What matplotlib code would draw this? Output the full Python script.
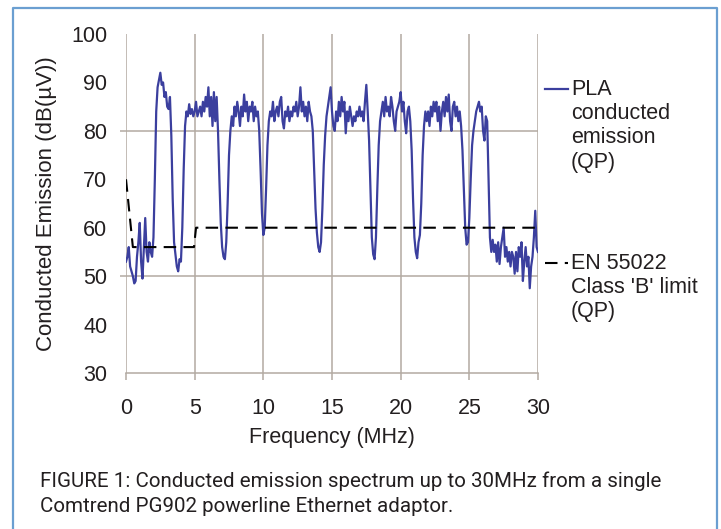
import numpy as np
import matplotlib
matplotlib.use("Agg")
import matplotlib.pyplot as plt
from matplotlib.lines import Line2D

# ------------------------------------------------------------
# Data
# ------------------------------------------------------------
# PLA quasi-peak emission, one value every 0.1 MHz from 0 to 30 MHz
freq_step_mhz = 0.1
pla_level = [
    53, 54, 56, 52, 51, 50, 48.5, 49, 54, 57,          # 0
    61, 53, 49.5, 56, 62, 55, 53, 57, 55, 54,          # 1
    58, 70, 84, 89, 90.5, 92, 89.5, 90, 87, 88,        # 2
    85, 84.5, 87, 79, 66, 57, 54.5, 52, 51, 53.5,      # 3
    53, 60, 72, 81, 84, 83, 85.5, 83.5, 84.5, 83,      # 4
    84, 86, 83, 84, 85, 83, 86, 84, 87, 85,            # 5
    89, 83, 87, 81, 88, 82, 87, 80, 70, 61,            # 6
    56, 54, 53.5, 57, 65, 75, 80, 83, 81, 85,          # 7
    83, 86, 84, 81, 85, 83, 87.5, 84, 86, 82,          # 8
    85, 84, 86, 82, 85, 83, 84, 80, 72, 63,            # 9
    58.5, 60, 68, 77, 82, 84, 83, 86, 82, 84,          # 10
    85, 83, 86, 87, 82, 80.5, 84, 83, 85, 82,          # 11
    84, 83, 85, 84, 86, 83, 85, 89, 84, 86,            # 12
    83, 85, 82, 86, 84, 83, 80, 72, 64, 59,            # 13
    56, 55, 57, 64, 73, 79, 83, 85, 87, 89,            # 14
    84, 81, 80, 84, 82, 86, 83, 87, 84, 86,            # 15
    79.5, 84, 82, 85, 83, 81, 83, 82, 84, 83,          # 16
    85, 83, 84, 82, 86, 89.5, 84, 78, 68, 58,          # 17
    54.5, 53.5, 58, 68, 77, 82, 84, 86, 83, 87,        # 18
    84, 85, 83, 87, 85, 82, 80, 84, 85, 86,            # 19
    88, 84, 86, 82, 79.5, 84, 85, 82, 76, 66,          # 20
    58, 55, 53.7, 57, 58.5, 65, 75, 81, 84, 82,        # 21
    84, 81, 85, 83, 86, 84, 86, 82, 85, 80,            # 22
    84, 86, 83, 87, 84, 87.5, 82, 80, 85, 86,          # 23
    83, 85, 82, 84, 81, 76, 68, 60, 56.5, 57,          # 24
    62, 70, 77, 80, 82, 84, 85, 86, 84, 85,            # 25
    80, 78, 83, 82, 70, 58, 55, 57.5, 55, 56.5,        # 26
    53, 57, 52.5, 56, 58, 60, 54, 56, 53, 55,          # 27
    52, 55, 54, 50.5, 55, 51, 56, 54, 57, 49,          # 28
    53, 56, 52, 54, 47.5, 52, 54, 58, 63.5, 56,        # 29
    55,                                                # 30
]
pla_freq = np.arange(len(pla_level)) * freq_step_mhz

# EN 55022 Class B quasi-peak limit
limit_freq = [0, 0.5, 4.95, 5.1, 30]
limit_level = [70, 56, 56, 60, 60]

x_ticks = [0, 5, 10, 15, 20, 25, 30]
y_ticks = [30, 40, 50, 60, 70, 80, 90, 100]
y_grid = [50, 80]

caption = ("FIGURE 1: Conducted emission spectrum up to 30MHz from a single\n"
           "Comtrend PG902 powerline Ethernet adaptor.")

# ------------------------------------------------------------
# Style
# ------------------------------------------------------------
TEXT = "#231f20"
GRID = "#b3aaa2"
BLUE = "#3b3f9e"
FRAME = "#6b9fd1"
plt.rcParams["font.family"] = ["Liberation Sans", "DejaVu Sans"]

fig = plt.figure(figsize=(7.21, 5.29), dpi=100)
ax = fig.add_axes([126 / 721, 1 - 373 / 529, 412 / 721, 339 / 529])

ax.plot(pla_freq, pla_level, color=BLUE, lw=1.6, zorder=3)
ax.plot(limit_freq, limit_level, color="black", lw=1.5,
        linestyle=(0, (6, 3.5)), zorder=4)

# the two horizontal grid lines poke out a little left of the plot
ax.hlines(y_grid, -0.45, 30, color=GRID, lw=1.1, clip_on=False, zorder=1)

ax.set_xlim(0, 30)
ax.set_ylim(30, 100)
ax.set_xticks(x_ticks)
ax.set_yticks(y_ticks)

for side in ["top", "right", "left"]:
    ax.spines[side].set_visible(False)
ax.spines["bottom"].set_color(GRID)
ax.spines["bottom"].set_linewidth(1.1)

ax.grid(axis="x", color=GRID, lw=1.1, zorder=1)
ax.tick_params(axis="x", length=5, width=1.1, color=GRID, pad=13,
               labelsize=15.5, labelcolor=TEXT)
ax.tick_params(axis="y", length=0, pad=13.5,
               labelsize=15.5, labelcolor=TEXT)

ax.set_xlabel("Frequency (MHz)", fontsize=15.5, color=TEXT, va="center")
ax.xaxis.set_label_coords(0.5, (373 - 438) / 339)
ax.set_ylabel("Conducted Emission (dB(µV))", fontsize=16, color=TEXT,
              va="center")
ax.yaxis.set_label_coords((47 - 126) / 412, 0.5)

# legend, drawn beside the plot like the original
fig.add_artist(Line2D([545 / 721, 568 / 721], [1 - 89 / 529] * 2,
                      color=BLUE, lw=1.6))
fig.text(571 / 721, 1 - 79 / 529, "PLA\nconducted\nemission\n(QP)",
         fontsize=15.5, color=TEXT, va="top", linespacing=1.2)
fig.add_artist(Line2D([545 / 721, 568 / 721], [1 - 263 / 529] * 2,
                      color="black", lw=1.5, linestyle=(0, (6, 3.5))))
fig.text(571 / 721, 1 - 253 / 529, "EN 55022\nClass 'B' limit\n(QP)",
         fontsize=15.5, color=TEXT, va="top", linespacing=1.2)

# caption
fig.text(40 / 721, 1 - 471 / 529, caption, fontsize=14.8, color=TEXT,
         va="top", linespacing=1.42, family=["Roboto", "DejaVu Sans"])

# light blue frame (open at the bottom)
fig.add_artist(Line2D([13 / 721, 13 / 721, 717 / 721, 717 / 721],
                      [0, 1 - 8 / 529, 1 - 8 / 529, 0],
                      color=FRAME, lw=1.6))

fig.savefig("out.png", dpi=100)
